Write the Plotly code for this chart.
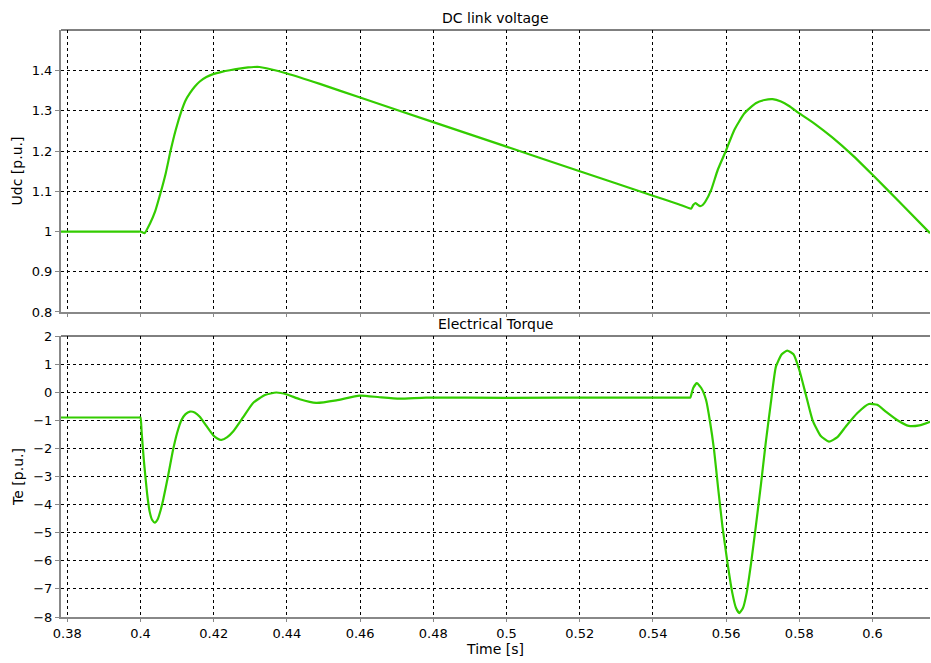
import plotly.graph_objects as go

# ---- DC link voltage (top) ----
t_udc = [0.37828, 0.39, 0.3995, 0.4, 0.4005, 0.4011, 0.4026, 0.4040, 0.4056, 0.4069, 0.4082,
         0.4096, 0.4112, 0.4123, 0.4135, 0.4148, 0.4162, 0.4180, 0.4200, 0.4222, 0.4244,
         0.4270, 0.4294, 0.4310, 0.4325, 0.4344, 0.4400, 0.4490, 0.46, 0.48, 0.50, 0.52,
         0.54, 0.5470, 0.5504, 0.5510, 0.5516, 0.5522, 0.5529, 0.5536, 0.5543, 0.5559,
         0.5577, 0.5600, 0.5622, 0.5650, 0.5681, 0.5705, 0.5727, 0.5750, 0.5772, 0.5798,
         0.5845, 0.5890, 0.5945, 0.6000, 0.6073, 0.6157]
udc = [1.0, 1.0, 1.0, 1.0, 0.998, 0.996, 1.02, 1.05, 1.10, 1.145, 1.20,
       1.252, 1.30, 1.326, 1.344, 1.36, 1.373, 1.384, 1.392, 1.397, 1.401,
       1.405, 1.408, 1.409, 1.409, 1.406, 1.393, 1.367, 1.333, 1.272, 1.211, 1.150,
       1.089, 1.068, 1.057, 1.066, 1.071, 1.067, 1.063, 1.066, 1.074, 1.103,
       1.153, 1.202, 1.252, 1.294, 1.319, 1.327, 1.329, 1.323, 1.312, 1.295,
       1.266, 1.234, 1.19, 1.141, 1.074, 0.996]

# ---- Electrical torque (bottom) ----
t_te = [0.37828, 0.39, 0.3996, 0.4, 0.4003, 0.4009, 0.4018, 0.4025, 0.4032, 0.4039, 0.4047,
        0.4055, 0.4062, 0.4075, 0.4089, 0.4100, 0.4112, 0.4123, 0.4135, 0.4148, 0.4162,
        0.4180, 0.4198, 0.4210, 0.4221, 0.4237, 0.4253, 0.4280, 0.4307, 0.4340, 0.4371,
        0.4400, 0.4435, 0.4480, 0.4535, 0.4599, 0.4653, 0.4708, 0.4780, 0.50, 0.53,
        0.5495, 0.5502, 0.5510, 0.5520, 0.5532, 0.5545, 0.5556, 0.5567, 0.5578, 0.5590,
        0.5604, 0.5617, 0.5627, 0.5636, 0.5646, 0.5656, 0.5668, 0.5681, 0.5695, 0.5708,
        0.5722, 0.5736, 0.5752, 0.5767, 0.5784, 0.5800, 0.5818, 0.5836, 0.5858, 0.5881,
        0.5904, 0.5927, 0.5958, 0.5990, 0.6013, 0.6036, 0.6068, 0.6099, 0.6128, 0.6157]
te = [-0.9, -0.9, -0.9, -0.9, -1.4, -2.4, -3.6, -4.25, -4.55, -4.64, -4.52,
      -4.2, -3.83, -3.0, -2.05, -1.45, -0.99, -0.78, -0.69, -0.72, -0.87,
      -1.2, -1.52, -1.65, -1.70, -1.6, -1.40, -0.9, -0.39, -0.1, -0.01,
      -0.08, -0.25, -0.38, -0.29, -0.12, -0.18, -0.23, -0.19, -0.2, -0.19,
      -0.19, -0.19, 0.15, 0.32, 0.15, -0.27, -1.05, -2.05, -3.4, -4.78,
      -6.1, -7.15, -7.68, -7.86, -7.68, -7.15, -6.1, -4.78, -3.3, -1.82,
      -0.4, 0.91, 1.35, 1.48, 1.35, 0.79, -0.1, -0.99, -1.55, -1.76,
      -1.6, -1.22, -0.75, -0.42, -0.45, -0.69, -1.0, -1.20, -1.18, -1.05]

udc_ticks = [0.8, 0.9, 1.0, 1.1, 1.2, 1.3, 1.4]
udc_labels = ["0.8", "0.9", "1", "1.1", "1.2", "1.3", "1.4"]
te_ticks = [-8, -7, -6, -5, -4, -3, -2, -1, 0, 1, 2]
x_ticks = [0.38, 0.40, 0.42, 0.44, 0.46, 0.48, 0.50, 0.52, 0.54, 0.56, 0.58, 0.60]
x_labels = ["0.38", "0.4", "0.42", "0.44", "0.46", "0.48", "0.5", "0.52",
            "0.54", "0.56", "0.58", "0.6"]

GREEN = "#33cc00"
FONT = "DejaVu Sans"

fig = go.Figure()
fig.add_trace(go.Scatter(x=t_udc, y=udc, mode="lines", xaxis="x", yaxis="y",
                         line=dict(color=GREEN, width=2.2, shape="spline", smoothing=0.5),
                         showlegend=False))
fig.add_trace(go.Scatter(x=t_te, y=te, mode="lines", xaxis="x2", yaxis="y2",
                         line=dict(color=GREEN, width=2.2, shape="spline", smoothing=0.5),
                         showlegend=False))

xr = [0.37828, 0.6157]
common_x = dict(range=xr, tickvals=x_ticks, ticktext=x_labels, showgrid=True,
                gridcolor="black", griddash="dot", gridwidth=1, zeroline=False,
                showline=True, linecolor="#888888", linewidth=2, ticks="outside",
                ticklen=3, tickcolor="#888888", automargin=False)
common_y = dict(showgrid=True, gridcolor="black", griddash="dot", gridwidth=1,
                zeroline=False, showline=True, linecolor="#888888", linewidth=2,
                ticks="outside", ticklen=4, tickcolor="#888888", automargin=False,
                tickfont=dict(size=13))

fig.update_layout(
    width=931, height=663,
    margin=dict(l=61, r=1, t=30, b=46),
    paper_bgcolor="white", plot_bgcolor="white",
    font=dict(family=FONT, size=13, color="black"),
    xaxis=dict(**common_x, domain=[0, 1], anchor="y", matches="x2", showticklabels=False),
    yaxis=dict(**common_y, domain=[0.5196, 1], anchor="x", range=[0.8, 1.501],
               tickvals=udc_ticks, ticktext=udc_labels,
               title=dict(text="Udc [p.u.]", standoff=6, font=dict(size=14))),
    xaxis2=dict(**common_x, domain=[0, 1], anchor="y2",
                title=dict(text="Time [s]", standoff=4, font=dict(size=14))),
    yaxis2=dict(**common_y, domain=[0, 0.4787], anchor="x2", range=[-8, 2],
                tickvals=te_ticks,
                title=dict(text="Te [p.u.]", standoff=6, font=dict(size=14))),
    shapes=[
        dict(type="line", xref="x domain", yref="y domain", x0=0, x1=1, y0=1, y1=1,
             line=dict(color="black", width=1)),
        dict(type="line", xref="x2 domain", yref="y2 domain", x0=0, x1=1, y0=1, y1=1,
             line=dict(color="black", width=1)),
    ],
    annotations=[
        dict(text="DC link voltage", xref="x domain", yref="y domain", x=0.5, y=1,
             yshift=2, showarrow=False, yanchor="bottom", font=dict(size=14)),
        dict(text="Electrical Torque", xref="x2 domain", yref="y2 domain", x=0.5, y=1,
             yshift=2, showarrow=False, yanchor="bottom", font=dict(size=14)),
    ],
)

fig.write_html("out.html", config={"displayModeBar": False},
               post_script="document.body.style.margin='0';document.body.style.overflow='hidden';")
